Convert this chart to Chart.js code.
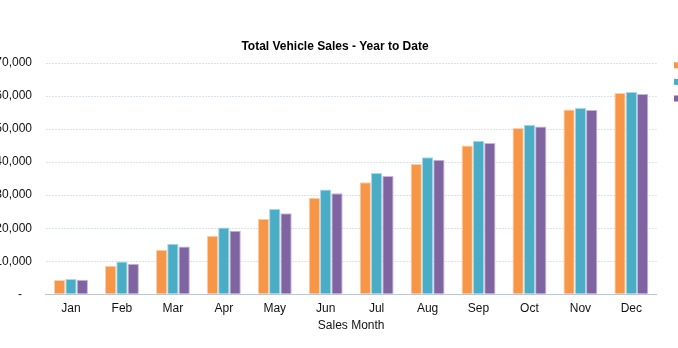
<!DOCTYPE html>
<html>
<head>
<meta charset="utf-8">
<script src="https://cdn.jsdelivr.net/npm/chart.js@4/dist/chart.umd.min.js"></script>
<style>
  html, body { margin: 0; padding: 0; background: #fff; overflow: hidden; width: 678px; height: 348px; }
  #wrap { position: absolute; left: -20px; top: 0; width: 758px; height: 348px; }
</style>
</head>
<body>
<div id="wrap"><canvas id="c" width="758" height="348"></canvas></div>
<script>
const months = ['Jan','Feb','Mar','Apr','May','Jun','Jul','Aug','Sep','Oct','Nov','Dec'];
const seriesNames = ['2012','2013','2014'];
const series1 = [4330, 8670, 13500, 17700, 22900, 29200, 33900, 39500, 45000, 50300, 55900, 60900];
const series2 = [4640, 9900, 15300, 20200, 25800, 31700, 36700, 41500, 46500, 51300, 56400, 61200];
const series3 = [4420, 9280, 14500, 19200, 24500, 30600, 35800, 40700, 45800, 50800, 55800, 60600];
const yMax = 70000;
const yStep = 10000;
const chartTitle = 'Total Vehicle Sales - Year to Date';
const xTitle = 'Sales Month';

const fills = ['#F79646', '#4BACC6', '#8064A2'];
const edges = ['#fbd0ae', '#a9d8e6', '#c4b6d6'];
const FONT = '"Liberation Sans", Arial, sans-serif';

const overlay = {
  id: 'overlay',
  afterDraw(chart) {
    const ctx = chart.ctx;
    ctx.save();
    ctx.fillStyle = '#000';
    ctx.font = 'bold 12px ' + FONT;
    ctx.textAlign = 'center';
    ctx.textBaseline = 'alphabetic';
    ctx.fillText(chartTitle, 355, 50);
    ctx.font = '12px ' + FONT;
    ctx.textAlign = 'left';
    ctx.textBaseline = 'middle';
    chart.data.datasets.forEach((ds, i) => {
      const y = 65.3 + i * 16.6;
      ctx.fillStyle = ds.backgroundColor;
      ctx.fillRect(694, y - 3, 6, 6);
      ctx.fillStyle = '#000';
      ctx.fillText(ds.label, 704, y);
    });
    ctx.restore();
  }
};

new Chart(document.getElementById('c'), {
  type: 'bar',
  data: {
    labels: months,
    datasets: [series1, series2, series3].map((d, i) => ({
      label: seriesNames[i],
      data: d,
      backgroundColor: fills[i],
      borderColor: edges[i],
      borderWidth: 1,
      categoryPercentage: 0.667,
      barPercentage: 1.0
    }))
  },
  options: {
    responsive: false,
    animation: false,
    devicePixelRatio: 1,
    layout: { padding: { left: 0, right: 81.2, top: 63, bottom: 0 } },
    plugins: { legend: { display: false }, title: { display: false }, tooltip: { enabled: false } },
    scales: {
      x: {
        grid: { display: false, drawTicks: false },
        border: { display: true, color: '#bcc6d8', width: 1 },
        ticks: { color: '#111', font: { family: FONT, size: 12 }, padding: 7.5, maxRotation: 0 },
        title: { display: true, text: xTitle, color: '#111', font: { family: FONT, size: 12 }, padding: { top: 0, bottom: 14.8 } },
        afterFit: s => { s.height = 53.7; }
      },
      y: {
        min: 0, max: yMax,
        ticks: {
          stepSize: yStep,
          color: '#111',
          font: { family: FONT, size: 12 },
          padding: 13.5,
          callback: v => v === 0 ? '-   ' : v.toLocaleString('en-US')
        },
        grid: { color: '#dce2eb', lineWidth: 1, drawTicks: false },
        border: { display: false, dash: [2, 1] },
        afterFit: s => { s.width = 65.5; }
      }
    }
  },
  plugins: [overlay]
});
</script>
</body>
</html>
